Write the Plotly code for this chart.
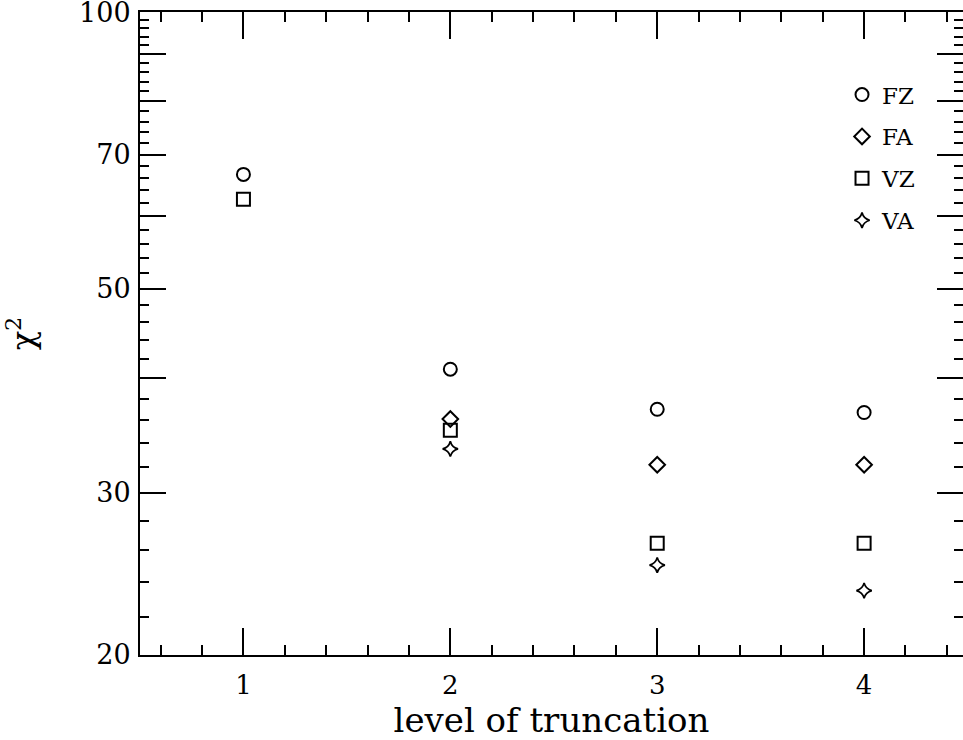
import plotly.graph_objects as go

levels = [1, 2, 3, 4]
FZ = [66.6, 40.9, 37.0, 36.7]
FA = [None, 36.1, 32.2, 32.2]
VZ = [62.6, 35.1, 26.45, 26.45]
VA = [None, 33.5, 25.05, 23.5]

y_major = [20, 30, 40, 50, 60, 70, 80, 90, 100]
y_labels = ["20", "30", "", "50", "", "70", "", "", "100"]
y_minor = [v for v in range(22, 100, 2) if v % 10 != 0]
x_major = [1, 2, 3, 4]
x_minor = [0.6, 0.8, 1.2, 1.4, 1.6, 1.8, 2.2, 2.4, 2.6, 2.8, 3.2, 3.4, 3.6, 3.8, 4.2, 4.4]

FONT = "DejaVu Serif"

series = [
    ("FZ", FZ, "circle-open", 13, 2),
    ("FA", FA, "diamond-open", 12, 2),
    ("VZ", VZ, "square-open", 13, 2),
    ("VA", VA, "star-diamond-open", 11, 1.7),
]

fig = go.Figure()
for name, vals, sym, sz, lw in series:
    fig.add_trace(go.Scatter(
        x=levels, y=vals, mode="markers", name=name, legendgroup=name,
        marker=dict(symbol=sym, size=sz, color="black", line=dict(color="black", width=lw)),
    ))
fig.add_trace(go.Scatter(x=[], y=[], yaxis="y2", showlegend=False))

yaxis_common = dict(
    type="log", range=[1.30103, 2.00005], tickmode="array", tickvals=y_major,
    ticks="inside", ticklen=26, tickwidth=2, tickcolor="black",
    showgrid=False, zeroline=False, automargin=False,
    minor=dict(tickmode="array", tickvals=y_minor, ticks="inside", ticklen=9,
               tickwidth=2, tickcolor="black", showgrid=False),
)

fig.update_layout(
    width=963, height=740,
    margin=dict(l=140, r=0, t=12, b=85),
    paper_bgcolor="white", plot_bgcolor="white",
    font=dict(family=FONT, color="black", size=26),
    showlegend=True,
    legend=dict(x=0.853, y=0.905, xanchor="left", yanchor="top",
                bgcolor="rgba(0,0,0,0)", font=dict(family=FONT, size=23),
                tracegroupgap=9, traceorder="grouped"),
    xaxis=dict(
        range=[0.5, 4.478], tickmode="array", tickvals=x_major,
        ticktext=[str(v) for v in x_major], automargin=False,
        ticks="inside", ticklen=27, tickwidth=2, tickcolor="black",
        showline=True, linewidth=2, linecolor="black", mirror="ticks",
        showgrid=False, zeroline=False, ticklabelstandoff=6,
        tickfont=dict(family=FONT, size=26),
        minor=dict(tickmode="array", tickvals=x_minor, ticks="inside", ticklen=10,
                   tickwidth=2, tickcolor="black", showgrid=False),
        title=dict(text="level of truncation", font=dict(family=FONT, size=34), standoff=13),
    ),
    yaxis=dict(
        **yaxis_common, ticktext=y_labels, ticklabeloverflow="allow",
        showline=True, linewidth=2, linecolor="black", mirror=False,
        tickfont=dict(family=FONT, size=27), ticklabelstandoff=2,
        title=dict(text="χ<sup>2</sup>", font=dict(family=FONT, size=32), standoff=44),
    ),
    yaxis2=dict(
        **yaxis_common, overlaying="y", side="right", anchor="x",
        showline=False, showticklabels=False,
    ),
)

fig.write_html("out.html")
